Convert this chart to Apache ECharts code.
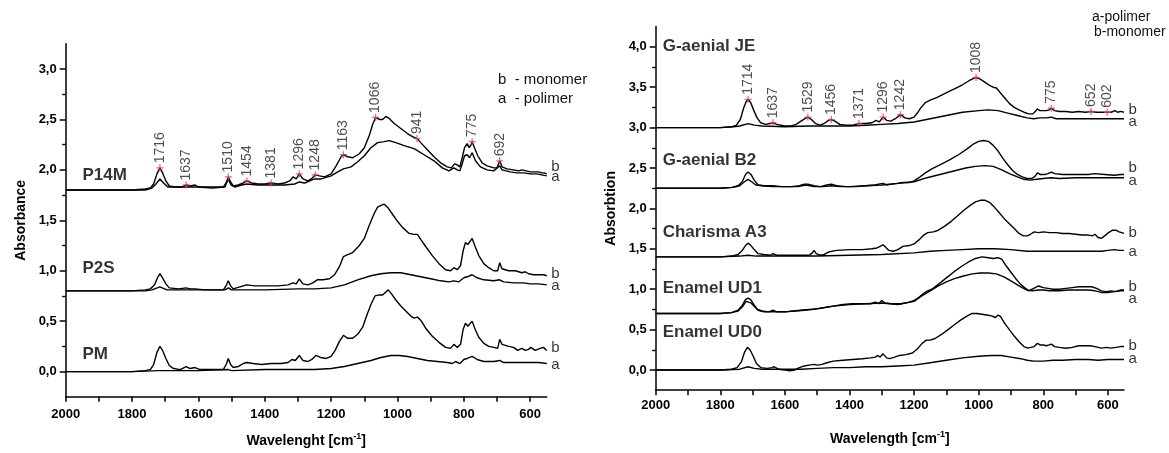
<!DOCTYPE html>
<html>
<head>
<meta charset="utf-8">
<script src="https://cdn.jsdelivr.net/npm/echarts@6/dist/echarts.min.js"></script>
<style>
html, body { margin: 0; padding: 0; background: #fff; }
#chart { width: 1169px; height: 453px; }
</style>
</head>
<body>
<div id="chart"></div>
<script>
// axis ticks / labels
const xLabels = [2000, 1800, 1600, 1400, 1200, 1000, 800, 600];
const xTicks = [2000, 1900, 1800, 1700, 1600, 1500, 1400, 1300, 1200, 1100, 1000, 900, 800, 700, 600];
const yLabelsLeft = [0, 0.5, 1, 1.5, 2, 2.5, 3];
const yMinorLeft = [0.25, 0.75, 1.25, 1.75, 2.25, 2.75];
const yLabelsRight = [0, 0.5, 1, 1.5, 2, 2.5, 3, 3.5, 4];
const yMinorRight = [0.25, 0.75, 1.25, 1.75, 2.25, 2.75, 3.25, 3.75];

// lewy panel: P14M, P2S, PM (b - monomer, a - polimer)
const p14mB = [[2000,1.80],[1900,1.80],[1800,1.80],[1760,1.81],[1745,1.82],[1735,1.86],[1725,1.96],[1716,2.02],[1708,1.97],[1698,1.89],[1688,1.84],[1670,1.83],[1650,1.83],[1637,1.85],[1625,1.84],[1610,1.85],[1600,1.83],[1560,1.83],[1525,1.83],[1515,1.88],[1510,1.93],[1503,1.88],[1495,1.84],[1480,1.85],[1465,1.87],[1454,1.89],[1440,1.87],[1420,1.86],[1400,1.86],[1381,1.87],[1360,1.86],[1340,1.87],[1325,1.89],[1315,1.93],[1305,1.91],[1296,1.96],[1285,1.91],[1270,1.89],[1260,1.91],[1248,1.95],[1235,1.94],[1220,1.93],[1200,1.96],[1185,2.04],[1170,2.13],[1163,2.15],[1150,2.13],[1135,2.12],[1115,2.16],[1100,2.22],[1085,2.34],[1075,2.45],[1066,2.52],[1055,2.50],[1045,2.50],[1035,2.53],[1025,2.51],[1010,2.46],[990,2.41],[970,2.36],[955,2.33],[941,2.31],[930,2.27],[910,2.20],[890,2.13],[870,2.07],[850,2.03],[838,2.02],[828,2.06],[820,2.05],[812,2.03],[805,2.12],[798,2.22],[790,2.26],[784,2.22],[778,2.25],[775,2.28],[768,2.22],[758,2.14],[745,2.07],[730,2.04],[710,2.02],[700,2.02],[692,2.09],[685,2.03],[670,2.01],[650,2.00],[635,1.99],[625,2.00],[612,1.99],[600,1.98],[590,1.98],[575,1.98],[565,1.97],[558,1.97],[550,1.96]];
const p14mA = [[2000,1.80],[1800,1.80],[1760,1.80],[1740,1.82],[1728,1.86],[1716,1.91],[1705,1.87],[1692,1.83],[1660,1.83],[1637,1.83],[1600,1.83],[1560,1.82],[1520,1.83],[1510,1.91],[1502,1.85],[1490,1.83],[1470,1.85],[1454,1.86],[1420,1.85],[1380,1.85],[1340,1.85],[1310,1.86],[1296,1.88],[1280,1.87],[1250,1.91],[1230,1.91],[1200,1.94],[1180,1.98],[1163,2.01],[1140,2.03],[1120,2.08],[1100,2.14],[1080,2.22],[1060,2.27],[1040,2.28],[1025,2.29],[1005,2.27],[980,2.24],[950,2.21],[920,2.15],[890,2.09],[865,2.02],[845,1.99],[830,2.02],[820,2.00],[812,1.99],[805,2.06],[798,2.14],[790,2.15],[783,2.12],[775,2.17],[765,2.09],[750,2.03],[730,2.00],[710,1.99],[692,2.04],[685,2.00],[660,1.98],[640,1.97],[620,1.97],[600,1.96],[580,1.96],[565,1.95],[550,1.94]];
const p2sB = [[2000,0.80],[1800,0.80],[1760,0.81],[1745,0.82],[1732,0.86],[1722,0.94],[1716,0.97],[1708,0.93],[1698,0.87],[1688,0.83],[1660,0.82],[1637,0.83],[1625,0.82],[1610,0.82],[1580,0.81],[1525,0.81],[1515,0.86],[1510,0.90],[1503,0.85],[1495,0.82],[1475,0.84],[1455,0.86],[1430,0.85],[1400,0.85],[1360,0.85],[1330,0.86],[1315,0.88],[1305,0.87],[1296,0.92],[1285,0.87],[1270,0.86],[1255,0.88],[1242,0.91],[1225,0.91],[1205,0.92],[1190,0.96],[1175,1.04],[1163,1.14],[1150,1.16],[1135,1.18],[1115,1.25],[1100,1.32],[1085,1.45],[1070,1.57],[1060,1.63],[1048,1.65],[1040,1.66],[1030,1.63],[1015,1.56],[1000,1.49],[985,1.43],[965,1.37],[950,1.36],[940,1.36],[930,1.31],[915,1.24],[895,1.15],[875,1.07],[855,1.01],[840,1.00],[830,1.03],[820,1.01],[810,1.05],[802,1.20],[795,1.28],[788,1.26],[782,1.27],[775,1.32],[766,1.24],[755,1.15],[740,1.07],[725,1.03],[710,1.00],[698,1.00],[692,1.08],[685,1.02],[665,1.00],[645,1.00],[625,0.98],[615,0.99],[605,0.97],[590,0.96],[575,0.96],[560,0.96],[550,0.95]];
const p2sA = [[2000,0.80],[1760,0.80],[1740,0.81],[1716,0.84],[1695,0.81],[1650,0.81],[1600,0.81],[1520,0.81],[1510,0.83],[1500,0.81],[1450,0.81],[1400,0.81],[1300,0.82],[1250,0.82],[1200,0.83],[1160,0.86],[1120,0.91],[1080,0.95],[1050,0.97],[1020,0.98],[990,0.98],[960,0.96],[930,0.94],[900,0.92],[870,0.90],[845,0.89],[830,0.90],[815,0.89],[800,0.93],[790,0.94],[775,0.96],[760,0.93],[740,0.91],[710,0.90],[692,0.91],[680,0.89],[650,0.88],[620,0.88],[600,0.87],[575,0.87],[550,0.86]];
const pmB = [[2000,0.00],[1800,0.00],[1760,0.01],[1745,0.02],[1735,0.07],[1725,0.19],[1716,0.25],[1708,0.21],[1698,0.13],[1688,0.06],[1675,0.03],[1655,0.02],[1637,0.05],[1625,0.03],[1610,0.04],[1595,0.02],[1570,0.02],[1525,0.02],[1515,0.08],[1510,0.13],[1503,0.07],[1495,0.04],[1480,0.05],[1465,0.08],[1454,0.09],[1435,0.08],[1410,0.07],[1380,0.08],[1350,0.08],[1330,0.09],[1318,0.12],[1308,0.11],[1296,0.16],[1285,0.11],[1270,0.10],[1258,0.12],[1246,0.16],[1232,0.14],[1215,0.13],[1200,0.15],[1188,0.21],[1175,0.30],[1163,0.36],[1150,0.33],[1135,0.33],[1120,0.37],[1105,0.44],[1090,0.58],[1078,0.68],[1068,0.75],[1055,0.76],[1045,0.76],[1035,0.79],[1028,0.81],[1018,0.77],[1005,0.71],[990,0.65],[975,0.60],[960,0.55],[950,0.53],[940,0.54],[930,0.51],[915,0.43],[895,0.35],[875,0.29],[855,0.24],[840,0.23],[830,0.27],[820,0.24],[810,0.27],[802,0.42],[795,0.48],[788,0.45],[782,0.46],[775,0.50],[766,0.42],[755,0.34],[740,0.28],[725,0.25],[710,0.24],[698,0.23],[692,0.32],[685,0.27],[665,0.25],[650,0.24],[638,0.21],[625,0.23],[615,0.21],[605,0.22],[598,0.24],[585,0.21],[570,0.23],[560,0.24],[550,0.21]];
const pmA = [[2000,0.00],[1800,0.00],[1720,0.01],[1700,0.01],[1600,0.01],[1510,0.02],[1500,0.01],[1400,0.02],[1300,0.02],[1250,0.02],[1200,0.03],[1160,0.05],[1120,0.08],[1080,0.11],[1050,0.14],[1020,0.16],[995,0.16],[970,0.15],[940,0.13],[910,0.11],[880,0.10],[850,0.09],[835,0.08],[825,0.10],[812,0.08],[800,0.12],[790,0.13],[775,0.15],[760,0.12],[740,0.10],[710,0.10],[692,0.11],[680,0.09],[650,0.09],[620,0.09],[600,0.09],[575,0.09],[550,0.08]];

// prawy panel: G-aenial JE, G-aenial B2, Charisma A3, Enamel UD1, Enamel UD0
const jeB = [[2000,3.00],[1800,3.00],[1765,3.01],[1750,3.03],[1738,3.10],[1728,3.24],[1720,3.32],[1714,3.35],[1706,3.31],[1696,3.21],[1686,3.12],[1675,3.06],[1660,3.04],[1645,3.05],[1637,3.06],[1625,3.04],[1600,3.02],[1580,3.02],[1565,3.04],[1550,3.08],[1538,3.11],[1529,3.13],[1518,3.10],[1505,3.05],[1490,3.03],[1475,3.06],[1465,3.09],[1456,3.10],[1445,3.08],[1430,3.04],[1410,3.03],[1390,3.03],[1371,3.05],[1350,3.05],[1330,3.06],[1318,3.09],[1308,3.07],[1296,3.13],[1285,3.09],[1272,3.08],[1258,3.11],[1242,3.16],[1228,3.12],[1215,3.11],[1200,3.13],[1190,3.18],[1178,3.25],[1165,3.31],[1150,3.34],[1130,3.37],[1110,3.41],[1090,3.45],[1070,3.49],[1050,3.53],[1030,3.58],[1015,3.61],[1008,3.62],[995,3.60],[980,3.56],[965,3.52],[955,3.50],[945,3.49],[935,3.44],[920,3.37],[905,3.30],[890,3.25],[875,3.22],[860,3.19],[845,3.17],[832,3.17],[825,3.20],[818,3.23],[810,3.21],[800,3.21],[790,3.21],[782,3.22],[775,3.24],[765,3.21],[750,3.20],[730,3.20],[710,3.19],[690,3.20],[670,3.19],[652,3.20],[635,3.19],[620,3.19],[602,3.19],[590,3.19],[578,3.21],[570,3.19],[560,3.20],[550,3.19]];
const jeA = [[2000,3.00],[1800,3.00],[1760,3.01],[1740,3.02],[1714,3.05],[1695,3.03],[1670,3.02],[1600,3.01],[1529,3.02],[1500,3.02],[1456,3.02],[1400,3.02],[1350,3.03],[1300,3.04],[1250,3.05],[1200,3.07],[1150,3.11],[1100,3.15],[1050,3.19],[1000,3.21],[970,3.22],[940,3.21],[910,3.18],[880,3.15],[850,3.12],[830,3.11],[810,3.12],[790,3.12],[775,3.13],[760,3.11],[720,3.11],[680,3.11],[640,3.11],[600,3.11],[570,3.11],[550,3.11]];
const b2B = [[2000,2.25],[1800,2.25],[1765,2.26],[1745,2.28],[1732,2.33],[1722,2.42],[1714,2.45],[1705,2.42],[1695,2.35],[1683,2.29],[1665,2.28],[1637,2.28],[1610,2.27],[1580,2.27],[1555,2.28],[1540,2.30],[1529,2.30],[1510,2.28],[1490,2.27],[1470,2.29],[1456,2.30],[1440,2.28],[1410,2.27],[1380,2.27],[1350,2.28],[1320,2.29],[1310,2.30],[1296,2.31],[1285,2.29],[1270,2.30],[1250,2.31],[1235,2.32],[1215,2.32],[1200,2.34],[1185,2.38],[1165,2.44],[1145,2.49],[1120,2.54],[1090,2.60],[1060,2.67],[1035,2.74],[1015,2.80],[1000,2.83],[985,2.84],[970,2.83],[955,2.78],[940,2.71],[925,2.62],[910,2.54],[895,2.47],[880,2.42],[865,2.39],[850,2.37],[835,2.37],[825,2.40],[818,2.44],[810,2.42],[795,2.42],[785,2.43],[775,2.45],[765,2.43],[740,2.42],[700,2.42],[660,2.42],[640,2.43],[610,2.42],[580,2.41],[560,2.42],[550,2.42]];
const b2A = [[2000,2.25],[1800,2.25],[1760,2.26],[1740,2.28],[1725,2.33],[1714,2.36],[1703,2.33],[1690,2.29],[1670,2.28],[1640,2.27],[1600,2.27],[1560,2.27],[1535,2.29],[1529,2.29],[1510,2.27],[1480,2.27],[1456,2.28],[1430,2.27],[1400,2.27],[1350,2.28],[1300,2.29],[1250,2.31],[1200,2.33],[1160,2.38],[1120,2.42],[1080,2.46],[1040,2.50],[1010,2.52],[980,2.53],[955,2.52],[930,2.48],[905,2.43],[880,2.39],[860,2.36],[840,2.35],[820,2.36],[800,2.37],[775,2.38],[750,2.37],[700,2.38],[650,2.38],[600,2.38],[550,2.38]];
const a3B = [[2000,1.40],[1800,1.40],[1765,1.41],[1745,1.43],[1732,1.48],[1722,1.54],[1714,1.57],[1705,1.54],[1695,1.49],[1683,1.44],[1665,1.43],[1645,1.42],[1637,1.44],[1625,1.42],[1600,1.42],[1560,1.42],[1525,1.42],[1515,1.45],[1510,1.48],[1503,1.44],[1490,1.42],[1478,1.43],[1465,1.46],[1440,1.48],[1400,1.49],[1360,1.49],[1330,1.50],[1315,1.51],[1305,1.53],[1296,1.55],[1288,1.52],[1278,1.48],[1265,1.47],[1250,1.49],[1235,1.53],[1215,1.54],[1200,1.56],[1185,1.61],[1170,1.67],[1158,1.70],[1140,1.71],[1125,1.73],[1105,1.78],[1085,1.84],[1065,1.91],[1045,1.98],[1025,2.04],[1010,2.08],[995,2.10],[980,2.10],[965,2.07],[950,2.01],[935,1.94],[920,1.87],[905,1.81],[890,1.75],[875,1.69],[862,1.66],[850,1.66],[840,1.68],[828,1.71],[815,1.70],[800,1.71],[780,1.70],[760,1.70],[740,1.69],[720,1.69],[700,1.68],[680,1.67],[660,1.67],[648,1.66],[640,1.68],[630,1.64],[620,1.63],[610,1.66],[598,1.70],[585,1.73],[575,1.73],[565,1.71],[550,1.69]];
const a3A = [[2000,1.40],[1800,1.40],[1740,1.41],[1714,1.42],[1690,1.41],[1600,1.41],[1500,1.41],[1400,1.42],[1300,1.43],[1200,1.45],[1150,1.47],[1100,1.48],[1050,1.49],[1000,1.50],[950,1.50],[900,1.49],[850,1.47],[800,1.47],[750,1.47],[700,1.47],[650,1.47],[620,1.47],[600,1.48],[580,1.49],[565,1.48],[550,1.48]];
const ud1B = [[2000,0.70],[1800,0.70],[1765,0.71],[1745,0.74],[1732,0.80],[1722,0.87],[1714,0.89],[1706,0.87],[1696,0.81],[1685,0.75],[1670,0.73],[1650,0.72],[1637,0.74],[1625,0.72],[1600,0.72],[1570,0.73],[1540,0.74],[1510,0.75],[1480,0.77],[1450,0.79],[1420,0.81],[1390,0.82],[1360,0.82],[1335,0.82],[1320,0.84],[1310,0.82],[1300,0.86],[1290,0.83],[1270,0.82],[1240,0.82],[1215,0.84],[1200,0.86],[1185,0.90],[1170,0.95],[1158,0.98],[1145,1.00],[1125,1.06],[1100,1.14],[1075,1.22],[1050,1.29],[1030,1.34],[1010,1.38],[990,1.40],[970,1.39],[955,1.38],[940,1.39],[928,1.37],[915,1.29],[900,1.21],[885,1.13],[870,1.06],[855,1.01],[845,0.98],[835,1.00],[825,1.02],[815,1.04],[800,1.02],[785,1.01],[770,1.00],[750,1.00],[730,1.01],[710,1.02],[690,1.03],[670,1.03],[650,1.03],[635,1.01],[620,0.98],[605,0.97],[590,0.98],[575,0.97],[560,0.99],[550,0.99]];
const ud1A = [[2000,0.70],[1800,0.70],[1765,0.71],[1745,0.73],[1730,0.79],[1720,0.85],[1714,0.86],[1705,0.83],[1695,0.79],[1683,0.74],[1665,0.72],[1640,0.72],[1600,0.72],[1550,0.74],[1500,0.76],[1450,0.79],[1400,0.81],[1350,0.82],[1300,0.83],[1250,0.81],[1200,0.85],[1175,0.92],[1150,0.98],[1125,1.04],[1100,1.09],[1075,1.13],[1050,1.16],[1020,1.19],[995,1.20],[970,1.20],[945,1.19],[920,1.15],[895,1.09],[870,1.03],[850,0.99],[835,0.98],[815,0.99],[800,0.99],[780,0.98],[750,0.98],[720,0.99],[690,0.99],[660,0.99],[640,0.98],[620,0.96],[600,0.96],[580,0.97],[560,0.98],[550,0.98]];
const ud0B = [[2000,0.00],[1800,0.00],[1765,0.01],[1748,0.03],[1735,0.10],[1725,0.22],[1716,0.28],[1708,0.25],[1698,0.17],[1688,0.08],[1675,0.03],[1655,0.02],[1640,0.03],[1633,0.04],[1620,0.01],[1600,0.00],[1585,-0.01],[1570,0.00],[1555,0.03],[1540,0.05],[1525,0.06],[1510,0.07],[1505,0.09],[1498,0.06],[1485,0.07],[1470,0.09],[1450,0.11],[1420,0.12],[1390,0.13],[1360,0.14],[1335,0.15],[1320,0.16],[1312,0.18],[1305,0.16],[1296,0.20],[1285,0.15],[1275,0.14],[1260,0.16],[1245,0.18],[1225,0.19],[1205,0.21],[1190,0.26],[1175,0.33],[1162,0.37],[1150,0.37],[1135,0.39],[1115,0.44],[1095,0.50],[1075,0.56],[1055,0.62],[1035,0.67],[1020,0.70],[1005,0.70],[990,0.69],[975,0.68],[960,0.67],[948,0.65],[940,0.68],[932,0.66],[920,0.58],[905,0.50],[890,0.42],[875,0.35],[860,0.29],[848,0.27],[838,0.28],[828,0.29],[818,0.33],[810,0.31],[800,0.31],[790,0.30],[782,0.31],[775,0.32],[765,0.29],[750,0.28],[730,0.27],[710,0.28],[690,0.30],[670,0.30],[655,0.30],[640,0.29],[620,0.27],[605,0.28],[590,0.27],[575,0.28],[560,0.29],[550,0.29]];
const ud0A = [[2000,0.00],[1800,0.00],[1740,0.01],[1714,0.04],[1695,0.02],[1670,0.01],[1600,0.01],[1550,0.01],[1500,0.02],[1450,0.03],[1400,0.03],[1350,0.04],[1300,0.04],[1250,0.05],[1200,0.06],[1150,0.09],[1100,0.12],[1050,0.15],[1000,0.17],[960,0.18],[930,0.18],[900,0.16],[870,0.14],[850,0.12],[830,0.11],[800,0.11],[770,0.12],[740,0.12],[700,0.13],[660,0.13],[630,0.12],[600,0.13],[570,0.13],[550,0.13]];

// zaznaczone piki (czerwone krzyżyki)
const peaksLeft = [[1716,2.02],[1637,1.85],[1510,1.93],[1454,1.89],[1381,1.87],[1296,1.96],[1248,1.95],[1163,2.15],[1066,2.52],[941,2.31],[775,2.28],[692,2.09]];
const peaksRight = [[1714,3.35],[1637,3.06],[1529,3.13],[1456,3.10],[1371,3.05],[1296,3.13],[1242,3.16],[1008,3.62],[775,3.24],[652,3.20],[602,3.19]];

// nazwy próbek i etykiety a/b
const namesLeft = [[1951,1.95,'P14M'],[1951,1.02,'P2S'],[1951,0.17,'PM']];
const namesRight = [[1980,4.0,'G-aenial JE'],[1980,2.6,'G-aenial B2'],[1980,1.7,'Charisma A3'],[1980,1.01,'Enamel UD1'],[1980,0.47,'Enamel UD0']];
const endLeft = [[550,2.03,'b'],[550,1.93,'a'],[550,0.97,'b'],[550,0.85,'a'],[550,0.24,'b'],[550,0.07,'a']];
const endRight = [[550,3.22,'b'],[550,3.07,'a'],[550,2.50,'b'],[550,2.34,'a'],[550,1.70,'b'],[550,1.46,'a'],[550,1.03,'b'],[550,0.88,'a'],[550,0.30,'b'],[550,0.14,'a']];

const FONT = 'Liberation Sans, Arial, sans-serif';
const plusPath = 'path://M-1,-0.18L-0.18,-0.18L-0.18,-1L0.18,-1L0.18,-0.18L1,-0.18L1,0.18L0.18,0.18L0.18,1L-0.18,1L-0.18,0.18L-1,0.18Z';

function fmtComma(v) {
    return v.toFixed(1).replace('.', ',');
}

function xAxisFor(gridIndex, name, gap, margin) {
    return {
        type: 'value', gridIndex: gridIndex, min: 550, max: 2000, inverse: true,
        axisLine: { onZero: false, lineStyle: { color: '#000', width: 1.5 } },
        axisTick: { show: true, customValues: xTicks, length: 5, lineStyle: { color: '#000', width: 1.5 } },
        axisLabel: {
            customValues: xLabels, formatter: function (v) { return String(v); },
            fontFamily: FONT, fontWeight: 'bold', fontSize: 13, color: '#000', margin: margin
        },
        splitLine: { show: false },
        name: name, nameLocation: 'middle', nameGap: gap,
        nameTextStyle: {
            fontFamily: FONT, fontWeight: 'bold', fontSize: 14, color: '#000',
            rich: { s: { fontFamily: FONT, fontWeight: 'bold', fontSize: 9, color: '#000', padding: [0, 0, 9, 0] } }
        }
    };
}

function yAxisFor(gridIndex, max, labels, name) {
    return {
        type: 'value', gridIndex: gridIndex, min: -0.25, max: max, position: 'left',
        axisLine: { onZero: false, lineStyle: { color: '#000', width: 1.5 } },
        axisTick: { show: true, customValues: labels, length: 6, lineStyle: { color: '#000', width: 1.5 } },
        axisLabel: { customValues: labels, formatter: fmtComma, fontFamily: FONT, fontWeight: 'bold', fontSize: 13, color: '#000', margin: 9 },
        splitLine: { show: false },
        name: name, nameLocation: 'middle', nameGap: 38,
        nameTextStyle: { fontFamily: FONT, fontWeight: 'bold', fontSize: 14, color: '#000' }
    };
}

function yMinorFor(gridIndex, max, ticks) {
    return {
        type: 'value', gridIndex: gridIndex, min: -0.25, max: max, position: 'left',
        axisLine: { show: false, onZero: false },
        axisTick: { show: true, customValues: ticks, length: 3.5, lineStyle: { color: '#000', width: 1.4 } },
        axisLabel: { show: false },
        splitLine: { show: false }
    };
}

function curve(data, xi, yi) {
    return {
        type: 'line', data: data, xAxisIndex: xi, yAxisIndex: yi,
        symbol: 'none', smooth: false, animation: false, z: 2,
        lineStyle: { color: '#000', width: 1.4 }
    };
}

function peaks(data, xi, yi) {
    return {
        type: 'scatter', data: data, xAxisIndex: xi, yAxisIndex: yi,
        symbol: plusPath, symbolSize: 7, z: 5, clip: false, animation: false,
        itemStyle: { color: '#e8404a' },
        label: {
            show: true, position: 'top', distance: 1, rotate: 90,
            align: 'left', verticalAlign: 'middle',
            formatter: function (p) { return p.value[0]; },
            fontFamily: FONT, fontSize: 14, color: '#222'
        }
    };
}

function texts(data, xi, yi, style) {
    return {
        type: 'scatter', data: data, xAxisIndex: xi, yAxisIndex: yi,
        symbol: 'circle', symbolSize: 1, z: 6, clip: false, animation: false,
        itemStyle: { color: 'rgba(0,0,0,0)' },
        label: Object.assign({
            show: true, position: 'right', distance: 0,
            formatter: function (p) { return p.value[2]; },
            fontFamily: FONT, color: '#000'
        }, style)
    };
}

const chart = echarts.init(document.getElementById('chart'), null, { renderer: 'canvas' });
chart.setOption({
    backgroundColor: '#fff',
    animation: false,
    grid: [
        { left: 65.7, top: 43.8, width: 481.1, height: 353 },
        { left: 655.7, top: 26.6, width: 468.3, height: 363.6 }
    ],
    xAxis: [
        xAxisFor(0, 'Wavelenght [cm{s|-1}]', 35, 11),
        xAxisFor(1, 'Wavelength [cm{s|-1}]', 40, 9)
    ],
    yAxis: [
        yAxisFor(0, 3.25, yLabelsLeft, 'Absorbance'),
        yMinorFor(0, 3.25, yMinorLeft),
        yAxisFor(1, 4.25, yLabelsRight, 'Absorbtion'),
        yMinorFor(1, 4.25, yMinorRight)
    ],
    graphic: [
        { type: 'text', left: 498, top: 72, style: { text: 'b  - monomer', font: '15px ' + FONT, fill: '#111' } },
        { type: 'text', left: 498, top: 91, style: { text: 'a  - polimer', font: '15px ' + FONT, fill: '#111' } },
        { type: 'text', left: 1092, top: 10, style: { text: 'a-polimer', font: '14px ' + FONT, fill: '#111' } },
        { type: 'text', left: 1094, top: 25, style: { text: 'b-monomer', font: '14px ' + FONT, fill: '#111' } }
    ],
    series: [
        curve(p14mB, 0, 0), curve(p14mA, 0, 0),
        curve(p2sB, 0, 0), curve(p2sA, 0, 0),
        curve(pmB, 0, 0), curve(pmA, 0, 0),
        curve(jeB, 1, 2), curve(jeA, 1, 2),
        curve(b2B, 1, 2), curve(b2A, 1, 2),
        curve(a3B, 1, 2), curve(a3A, 1, 2),
        curve(ud1B, 1, 2), curve(ud1A, 1, 2),
        curve(ud0B, 1, 2), curve(ud0A, 1, 2),
        peaks(peaksLeft, 0, 0),
        peaks(peaksRight, 1, 2),
        texts(namesLeft, 0, 0, { fontWeight: 'bold', fontSize: 17 }),
        texts(namesRight, 1, 2, { fontWeight: 'bold', fontSize: 17 }),
        texts(endLeft, 0, 0, { fontSize: 15, distance: 4 }),
        texts(endRight, 1, 2, { fontSize: 15, distance: 4 })
    ]
});
</script>
</body>
</html>
